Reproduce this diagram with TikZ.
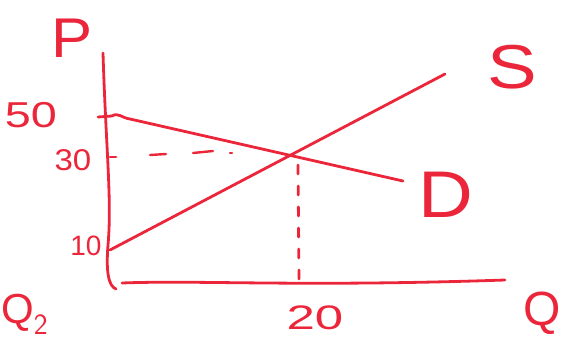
\documentclass[tikz,border=0pt]{standalone}
\usepackage{fontspec}
\setmainfont{Liberation Sans}
\definecolor{pen}{RGB}{236,38,58}
\begin{document}
\begin{tikzpicture}[x=1pt,y=-1pt,
  ink/.style={draw=pen,line width=2.8pt,line cap=round,line join=round},
  dashline/.style={ink,dash pattern=on 9pt off 12pt},
  lab/.style={text=pen,inner sep=0pt,anchor=center}]
\useasboundingbox (0,0) rectangle (566,341);
% axes
\coordinate (ytop) at (103,53);
\coordinate (ybot) at (110,284);
\coordinate (xl) at (122,283);
\coordinate (xr) at (505,280);
\draw[ink] (ytop) .. controls (106,150) and (112,200) .. (108,245) .. controls (106,270) and (108,286) .. (116,289);
\draw[ink] (xl) .. controls (200,280) and (300,287) .. (xr);
% ticks
\draw[ink] (98,117) -- (112,116);
\draw[ink] (110,157) -- (116,157);
% demand and supply
\coordinate (d0) at (112,116);
\coordinate (d1) at (403,181);
\coordinate (s0) at (110,250);
\coordinate (s1) at (445,74);
\draw[ink] (d0) .. controls (118,112) and (122,118) .. (130,119) -- (d1);
\draw[ink] (s0) -- (s1);
% equilibrium guides
\coordinate (e) at (293,150);
\draw[ink,line width=2.4pt] (150,155) -- (166,154);
\draw[ink,line width=2.4pt] (193,153) -- (213,151);
\draw[ink,line width=2.4pt] (230,153) -- (232,153);
\draw[dashline] (298,165) -- (299,280);
% labels
\node[lab,font=\fontsize{56}{56}\selectfont,xscale=1.1] (P) at (72,38) {P};
\node[lab,font=\fontsize{36}{36}\selectfont,xscale=1.3] (n50) at (31,115) {50};
\node[lab,font=\fontsize{30}{30}\selectfont,xscale=1.1] (n30) at (73,160) {30};
\node[lab,font=\fontsize{28}{28}\selectfont] (n10) at (86,246) {10};
\node[lab,font=\fontsize{62}{62}\selectfont,xscale=1.2] (S) at (512,67) {S};
\node[lab,font=\fontsize{66}{66}\selectfont,xscale=1.15] (D) at (446,195) {D};
\node[lab,font=\fontsize{34}{34}\selectfont,xscale=1.5] (n20) at (315,318) {20};
\node[lab,font=\fontsize{48}{48}\selectfont] (Q) at (542,313) {Q};
\node[lab,font=\fontsize{42}{42}\selectfont,anchor=west] (Q2) at (1,314) {Q$_{\mathsf 2}$};
\end{tikzpicture}
\end{document}
